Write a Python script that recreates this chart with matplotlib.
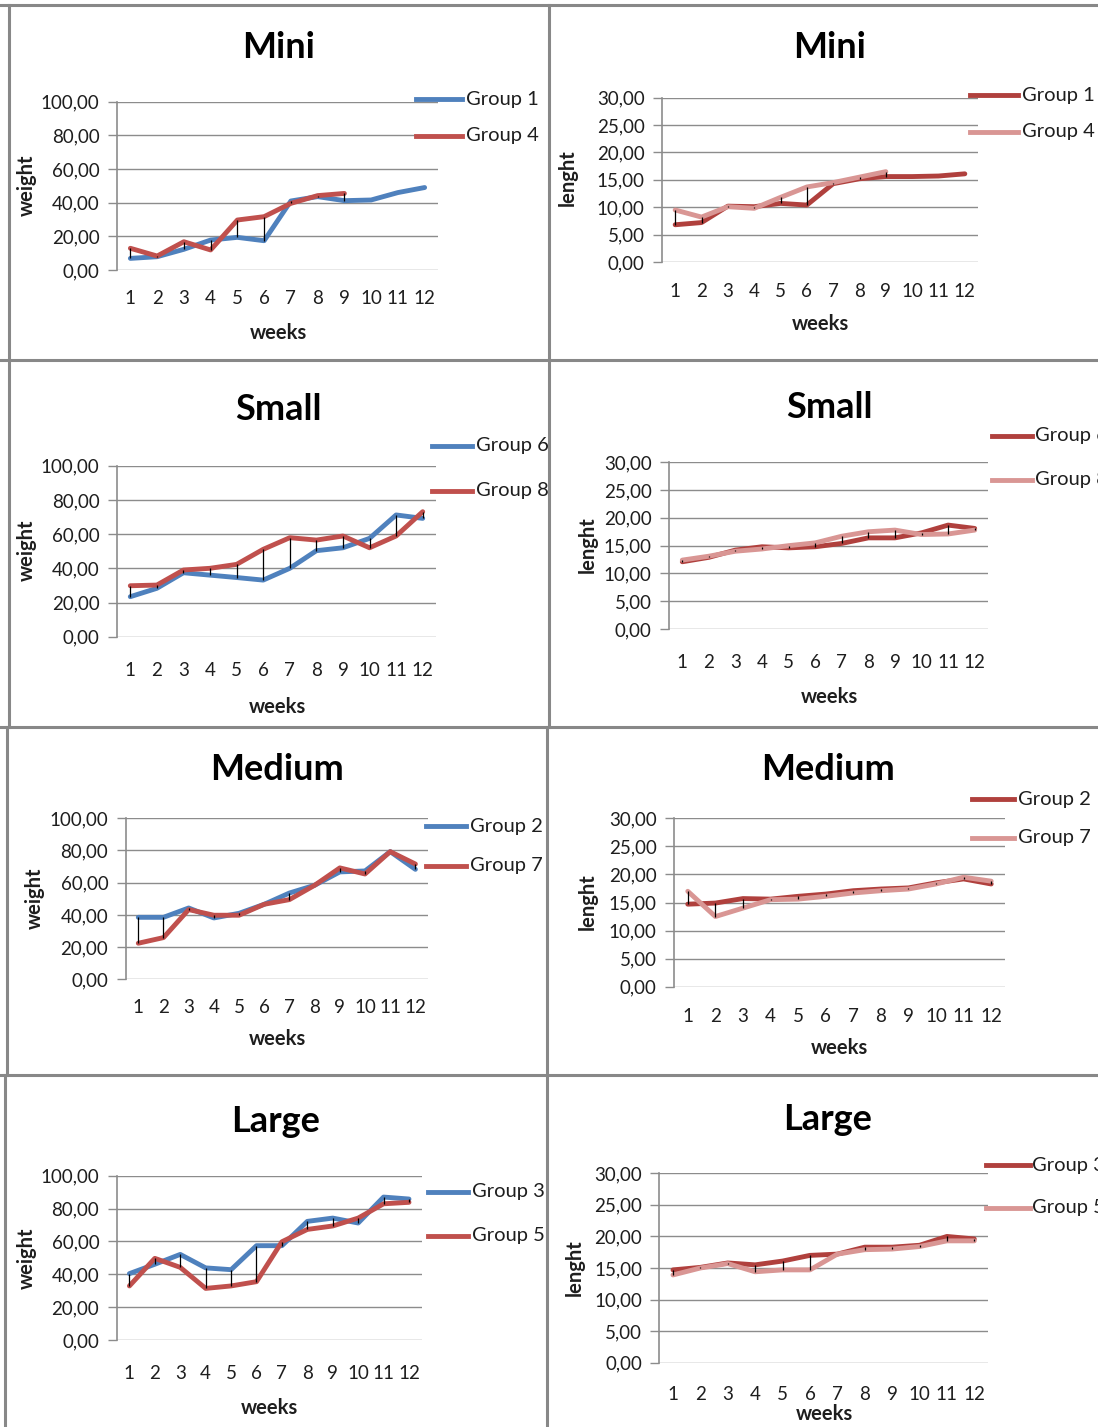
import matplotlib
matplotlib.use("Agg")
import matplotlib.pyplot as plt
from matplotlib.lines import Line2D

plt.rcParams["font.family"] = ["Lato", "DejaVu Sans"]

# =========================
# Data
# =========================
weeks = list(range(1, 13))
week_labels = [str(w) for w in weeks]

weight_ticks = [0, 20, 40, 60, 80, 100]
weight_tick_labels = ["0,00", "20,00", "40,00", "60,00", "80,00", "100,00"]
length_ticks = [0, 5, 10, 15, 20, 25, 30]
length_tick_labels = ["0,00", "5,00", "10,00", "15,00", "20,00", "25,00", "30,00"]

mini_weight_g1 = [6.9, 7.9, 12.3, 17.8, 19.4, 17.4, 41.0, 43.6, 41.2, 41.6, 46.0, 49.0]
mini_weight_g4 = [12.9, 8.3, 16.8, 11.9, 29.7, 31.7, 39.6, 44.2, 45.5]
mini_length_g1 = [6.8, 7.2, 10.2, 10.1, 10.7, 10.4, 14.3, 15.2, 15.6, 15.6, 15.7, 16.1]
mini_length_g4 = [9.5, 8.2, 10.1, 9.8, 11.8, 13.7, 14.5, 15.5, 16.5]

small_weight_g6 = [23.4, 28.3, 37.4, 36.0, 34.6, 33.1, 40.0, 50.3, 52.0, 57.5, 71.2, 69.2]
small_weight_g8 = [29.8, 30.2, 39.0, 40.0, 42.3, 51.1, 57.9, 56.5, 58.9, 52.0, 58.9, 73.1]
small_length_g6 = [12.1, 12.9, 14.2, 14.8, 14.6, 14.8, 15.4, 16.4, 16.4, 17.3, 18.7, 18.1]
small_length_g8 = [12.4, 13.1, 14.0, 14.4, 15.0, 15.5, 16.7, 17.5, 17.8, 17.0, 17.1, 17.8]

medium_weight_g2 = [38.5, 38.5, 44.3, 38.1, 41.0, 46.6, 53.6, 58.4, 66.7, 67.3, 79.3, 68.3]
medium_weight_g7 = [22.4, 25.9, 43.3, 39.8, 39.8, 46.6, 49.5, 58.4, 69.2, 65.4, 79.3, 71.6]
medium_length_g2 = [14.7, 14.9, 15.7, 15.6, 16.1, 16.5, 17.1, 17.4, 17.6, 18.5, 19.2, 18.3]
medium_length_g7 = [17.0, 12.5, 14.0, 15.5, 15.6, 16.1, 16.7, 17.1, 17.4, 18.3, 19.5, 18.8]

large_weight_g3 = [40.4, 46.1, 52.1, 43.9, 42.8, 57.4, 57.4, 72.2, 74.2, 71.2, 87.0, 85.8]
large_weight_g5 = [32.9, 49.7, 44.2, 31.4, 32.9, 35.5, 59.8, 67.3, 69.4, 74.2, 82.9, 83.8]
large_length_g3 = [14.7, 15.1, 15.8, 15.5, 16.1, 17.0, 17.2, 18.3, 18.3, 18.6, 20.0, 19.6]
large_length_g5 = [13.9, 15.0, 15.7, 14.4, 14.7, 14.7, 17.2, 17.9, 18.0, 18.4, 19.3, 19.3]

# =========================
# Styling / layout (pixels)
# =========================
W, H = 1098, 1427
BLUE = "#4F81BD"
RED = "#C0504D"
DARK_RED = "#B0403D"
LIGHT_RED = "#D99694"
GRID = "#8C8C8C"
BORDER = "#888888"
TEXT = "#1E1E1E"


def fx(x):
    return x / W


def fy(y):
    return 1 - y / H


panels = [
    dict(title="Mini", ylabel="weight", a=mini_weight_g1, b=mini_weight_g4,
         names=("Group 1", "Group 4"), colors=(BLUE, RED), kind="w", xpad=14.5,
         box=(117, 101.7, 438, 270), title_xy=(279, 48), ylab_xy=(27, 185),
         xlab_xy=(278, 333), leg=(416, 462, 466, 99, 136)),
    dict(title="Mini", ylabel="lenght", a=mini_length_g1, b=mini_length_g4,
         names=("Group 1", "Group 4"), colors=(DARK_RED, LIGHT_RED), kind="l", xpad=15,
         box=(662, 97.7, 978, 262), title_xy=(830, 47), ylab_xy=(568, 178),
         xlab_xy=(820, 324), leg=(970, 1018, 1022, 95, 132)),
    dict(title="Small", ylabel="weight", a=small_weight_g6, b=small_weight_g8,
         names=("Group 6", "Group 8"), colors=(BLUE, RED), kind="w", xpad=18,
         box=(117, 465.7, 436, 636.7), title_xy=(278, 409), ylab_xy=(27, 550),
         xlab_xy=(277, 707), leg=(432, 472, 476, 446, 491)),
    dict(title="Small", ylabel="lenght", a=small_length_g6, b=small_length_g8,
         names=("Group 6", "Group 8"), colors=(DARK_RED, LIGHT_RED), kind="l", xpad=18,
         box=(669, 462.3, 988, 629), title_xy=(829, 408), ylab_xy=(588, 545),
         xlab_xy=(829, 697), leg=(992, 1032, 1035, 436, 480)),
    dict(title="Medium", ylabel="weight", a=medium_weight_g2, b=medium_weight_g7,
         names=("Group 2", "Group 7"), colors=(BLUE, RED), kind="w", xpad=14.5,
         box=(125.7, 818.3, 428, 979.3), title_xy=(277, 770), ylab_xy=(35, 898),
         xlab_xy=(277, 1039), leg=(426, 466, 470, 826, 866)),
    dict(title="Medium", ylabel="lenght", a=medium_length_g2, b=medium_length_g7,
         names=("Group 2", "Group 7"), colors=(DARK_RED, LIGHT_RED), kind="l", xpad=15,
         box=(674, 818.3, 1005, 986.7), title_xy=(828, 770), ylab_xy=(588, 902),
         xlab_xy=(839, 1048), leg=(972, 1014, 1018, 799, 838)),
    dict(title="Large", ylabel="weight", a=large_weight_g3, b=large_weight_g5,
         names=("Group 3", "Group 5"), colors=(BLUE, RED), kind="w", xpad=18,
         box=(116.7, 1175.7, 421.7, 1340), title_xy=(276, 1122), ylab_xy=(27, 1258),
         xlab_xy=(269, 1408), leg=(428, 468, 472, 1192, 1236)),
    dict(title="Large", ylabel="lenght", a=large_length_g3, b=large_length_g5,
         names=("Group 3", "Group 5"), colors=(DARK_RED, LIGHT_RED), kind="l", xpad=16.5,
         box=(659.3, 1173.3, 988, 1362.7), title_xy=(828, 1120), ylab_xy=(575, 1268),
         xlab_xy=(824, 1414), leg=(986, 1030, 1032, 1165, 1208)),
]


def draw_panel(fig, p):
    l, t, r, b = p["box"]
    ax = fig.add_axes([fx(l), fy(b), (r - l) / W, (b - t) / H])
    a, bb = p["a"], p["b"]
    ca, cb = p["colors"]
    ax.plot(weeks[:len(a)], a, color=ca, lw=3.5, solid_capstyle="round", zorder=3)
    ax.plot(weeks[:len(bb)], bb, color=cb, lw=3.5, solid_capstyle="round", zorder=3)
    # high-low lines between the two series
    n = min(len(a), len(bb))
    lo = [min(a[i], bb[i]) for i in range(n)]
    hi = [max(a[i], bb[i]) for i in range(n)]
    ax.vlines(weeks[:n], lo, hi, color="black", lw=0.9, zorder=4)

    if p["kind"] == "w":
        ticks, labels = weight_ticks, weight_tick_labels
    else:
        ticks, labels = length_ticks, length_tick_labels
    ax.set_xlim(0.5, 12.5)
    ax.set_ylim(ticks[0], ticks[-1])
    ax.set_yticks(ticks)
    ax.set_yticklabels(labels)
    ax.set_xticks(weeks)
    ax.set_xticklabels(week_labels)
    ax.tick_params(axis="y", length=6.5, width=1, color=GRID, pad=6,
                   labelsize=13.5, labelcolor=TEXT)
    ax.tick_params(axis="x", length=0, pad=p["xpad"], labelsize=13.5, labelcolor=TEXT)
    ax.yaxis.grid(True, color=GRID, lw=1)
    ax.set_axisbelow(True)
    for s in ("top", "right", "bottom"):
        ax.spines[s].set_visible(False)
    ax.spines["left"].set_color(GRID)
    ax.spines["left"].set_linewidth(1.2)

    fig.text(fx(p["title_xy"][0]), fy(p["title_xy"][1]), p["title"],
             ha="center", va="center", fontsize=26, fontweight="bold", color="black")
    fig.text(fx(p["xlab_xy"][0]), fy(p["xlab_xy"][1]), "weeks",
             ha="center", va="center", fontsize=14.5, fontweight="bold", color=TEXT)
    fig.text(fx(p["ylab_xy"][0]), fy(p["ylab_xy"][1]), p["ylabel"], rotation=90,
             ha="center", va="center", fontsize=14.5, fontweight="bold", color=TEXT)

    x0, x1, xt, y1, y2 = p["leg"]
    for name, col, yy in ((p["names"][0], ca, y1), (p["names"][1], cb, y2)):
        fig.add_artist(Line2D([fx(x0), fx(x1)], [fy(yy), fy(yy)], color=col,
                              lw=3.5, transform=fig.transFigure))
        fig.text(fx(xt), fy(yy), name, ha="left", va="center",
                 fontsize=14.5, color=TEXT)


def draw_borders(fig):
    segs = [
        ((0, 5), (W, 5)), ((0, 360), (W, 360)), ((0, 727), (W, 727)), ((0, 1075), (W, 1075)),
        ((9, 5), (9, 727)), ((7, 727), (7, 1075)), ((5, 1075), (5, H)),
        ((549, 5), (549, 727)), ((547, 727), (547, H)),
    ]
    for (xa, ya), (xb, yb) in segs:
        fig.add_artist(Line2D([fx(xa), fx(xb)], [fy(ya), fy(yb)], color=BORDER,
                              lw=2.2, transform=fig.transFigure))


def main():
    fig = plt.figure(figsize=(W / 100, H / 100), dpi=100)
    fig.patch.set_facecolor("white")
    for p in panels:
        draw_panel(fig, p)
    draw_borders(fig)
    fig.savefig("out.png", dpi=100)


if __name__ == "__main__":
    main()
